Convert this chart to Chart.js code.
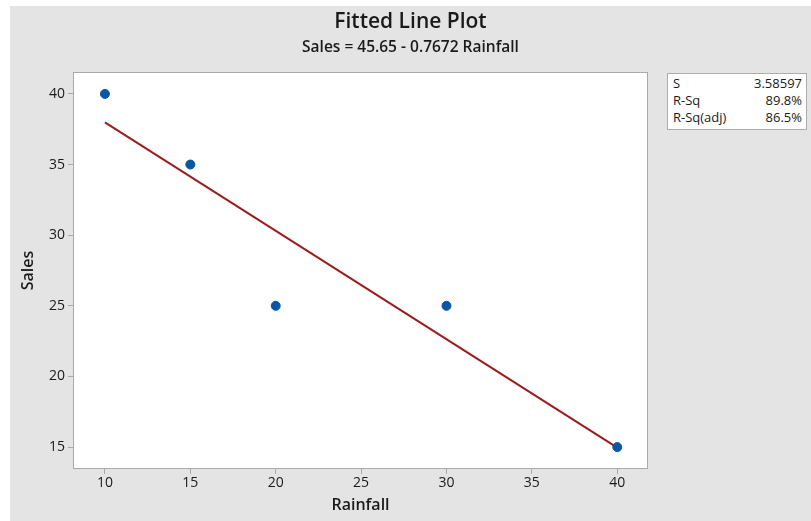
<!DOCTYPE html>
<html>
<head>
<meta charset="utf-8">
<script src="https://cdn.jsdelivr.net/npm/chart.js@4.4.1/dist/chart.umd.min.js"></script>
<style>
  html, body { margin: 0; padding: 0; background: #fff; }
  #wrap { position: relative; width: 811px; height: 521px; overflow: hidden; font-family: 'Open Sans', sans-serif; }
  #panel { position: absolute; left: 10px; top: 6px; right: 0; bottom: 0; background: #e4e4e4; }
  #chart { position: absolute; left: 0; top: 0; }
  .title { position: absolute; left: 10px; right: 0; text-align: center; color: #1a1a1a; font-weight: 600; }
  #t1 { top: 6px; font-size: 21px; }
  #t2 { top: 35px; font-size: 15.5px; }
  #stats { position: absolute; left: 667px; top: 73px; width: 138px; height: 54px; background: #fff;
           border: 1px solid #adadad; font-size: 13px; color: #1a1a1a; padding-top: 1px; }
  #stats .row { display: flex; justify-content: space-between; padding: 0 4px 0 5px; line-height: 17px; }
</style>
</head>
<body>
<div id="wrap">
  <div id="panel"></div>
  <canvas id="chart" width="811" height="521"></canvas>
  <div class="title" id="t1">Fitted Line Plot</div>
  <div class="title" id="t2">Sales = 45.65 - 0.7672 Rainfall</div>
  <div id="stats"></div>
</div>
<script>
// ── Data ─────────────────────────────────────────────────────────────────────
var rainfall    = [10, 15, 20, 30, 40];
var sales       = [40, 35, 25, 25, 15];
// fitted line end points (Sales = 45.65 - 0.7672 Rainfall)
var fitRainfall = [10, 40];
var fitSales    = [37.98, 14.96];
var xTicks      = [10, 15, 20, 25, 30, 35, 40];
var yTicks      = [15, 20, 25, 30, 35, 40];
var statNames   = ['S', 'R-Sq', 'R-Sq(adj)'];
var statValues  = ['3.58597', '89.8%', '86.5%'];

// ── Stats box ────────────────────────────────────────────────────────────────
var box = document.getElementById('stats');
statNames.forEach(function(n, i) {
    var row = document.createElement('div');
    row.className = 'row';
    var a = document.createElement('span'); a.textContent = n;
    var b = document.createElement('span'); b.textContent = statValues[i];
    row.appendChild(a); row.appendChild(b);
    box.appendChild(row);
});

// ── Plot frame / background ─────────────────────────────────────────────────
var framePlugin = {
    id: 'frame',
    beforeDatasetsDraw: function(chart) {
        var a = chart.chartArea, ctx = chart.ctx;
        ctx.save();
        ctx.fillStyle = '#fff';
        ctx.fillRect(a.left, a.top, a.right - a.left, a.bottom - a.top);
        ctx.strokeStyle = '#a9a9a9';
        ctx.lineWidth = 1;
        ctx.strokeRect(a.left + 0.5, a.top + 0.5, a.right - a.left - 1, a.bottom - a.top - 1);
        ctx.restore();
    }
};

var tickFont  = { family: "'Open Sans', sans-serif", size: 14 };
var titleFont = { family: "'Open Sans', sans-serif", size: 16, weight: '600' };

new Chart(document.getElementById('chart'), {
    type: 'scatter',
    data: {
        datasets: [{
            label: 'Sales',
            data: rainfall.map(function(x, i) { return { x: x, y: sales[i] }; }),
            backgroundColor: '#0757a6',
            borderColor: '#0757a6',
            pointRadius: 4.5,
            order: 1
        }, {
            type: 'line',
            label: 'Fit',
            data: fitRainfall.map(function(x, i) { return { x: x, y: fitSales[i] }; }),
            borderColor: '#9b1c1c',
            borderWidth: 2,
            pointRadius: 0,
            fill: false,
            order: 2
        }]
    },
    options: {
        responsive: false,
        animation: false,
        layout: { padding: { left: 15, right: 163, top: 72, bottom: 2 } },
        plugins: { legend: { display: false }, tooltip: { enabled: false } },
        scales: {
            x: {
                type: 'linear', min: 8.13, max: 41.8,
                afterBuildTicks: function(s) { s.ticks = xTicks.map(function(v) { return { value: v }; }); },
                afterFit: function(s) { s.height = 50; },
                grid: { drawOnChartArea: false, tickLength: 5, color: '#a9a9a9' },
                border: { display: false },
                ticks: { font: tickFont, color: '#1a1a1a', padding: 1, maxRotation: 0 },
                title: { display: true, text: 'Rainfall', font: titleFont, color: '#1a1a1a', padding: { top: 0, bottom: 4 } }
            },
            y: {
                type: 'linear', min: 13.45, max: 41.55,
                afterBuildTicks: function(s) { s.ticks = yTicks.map(function(v) { return { value: v }; }); },
                afterFit: function(s) { s.width = 58; },
                grid: { drawOnChartArea: false, tickLength: 5, color: '#a9a9a9' },
                border: { display: false },
                ticks: { font: tickFont, color: '#1a1a1a', padding: 3 },
                title: { display: true, text: 'Sales', font: titleFont, color: '#1a1a1a', padding: { top: 4, bottom: 0 } }
            }
        }
    },
    plugins: [framePlugin]
});
</script>
</body>
</html>
